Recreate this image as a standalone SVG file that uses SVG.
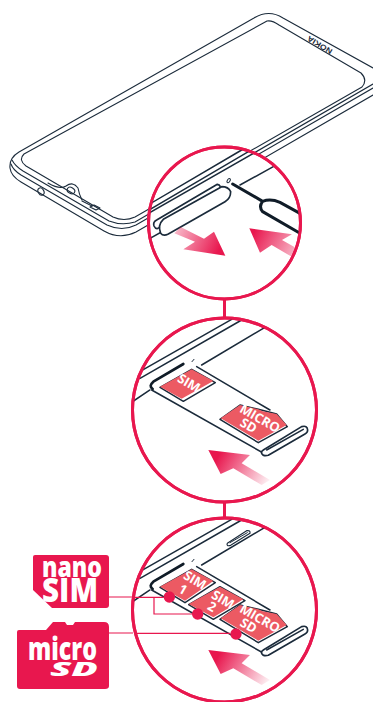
<svg xmlns="http://www.w3.org/2000/svg" width="373" height="702" viewBox="0 0 373 702">
<style>
.l{fill:none;stroke:#1b2b3b;stroke-width:1.1;stroke-linejoin:round;stroke-linecap:round}
.z{fill:none;stroke:#1b2b3b;stroke-width:4.500;stroke-linejoin:round;stroke-linecap:round}
.k{fill:none;stroke:#101c28;stroke-width:9;stroke-linecap:round;stroke-linejoin:round}
.t{fill:#fff;stroke:#1b2b3b;stroke-width:5;stroke-linejoin:round}
.c{fill:#fff;stroke:#e8174e;stroke-width:3}
.r{stroke:#e8174e;stroke-width:1.2;fill:none}
.card{fill:#ec5a63;stroke:none}
.edge{fill:#fff;stroke:#1b2b3b;stroke-width:4.500;stroke-linejoin:round}
.ct{font-family:"Open Sans","Liberation Sans",sans-serif;font-weight:700;fill:#fff;font-size:39px;text-anchor:middle}
.b{fill:#e8174e}
.w{font-family:"Open Sans","Liberation Sans",sans-serif;font-weight:800;fill:#fff}
</style>
<defs>
<linearGradient id="g1" gradientUnits="userSpaceOnUse" x1="250" y1="340" x2="105" y2="270"><stop offset="0.1" stop-color="#e8174e"/><stop offset="1" stop-color="#e8174e" stop-opacity=".3"/></linearGradient>
<linearGradient id="g2" gradientUnits="userSpaceOnUse" x1="330" y1="265" x2="470" y2="340"><stop offset="0.1" stop-color="#e8174e"/><stop offset="1" stop-color="#e8174e" stop-opacity=".3"/></linearGradient>
<linearGradient id="g3" gradientUnits="userSpaceOnUse" x1="240" y1="420" x2="415" y2="520"><stop offset="0.15" stop-color="#e8174e"/><stop offset="1" stop-color="#e8174e" stop-opacity=".05"/></linearGradient>
<clipPath id="c1"><circle cx="224.500" cy="223" r="76"/></clipPath>
<clipPath id="c2"><circle cx="224.500" cy="410" r="92"/></clipPath>
<clipPath id="c3"><circle cx="224.500" cy="610" r="92"/></clipPath>
</defs>
<g id="phone">
<path class="l" d="M373,68 L283,18 Q269,9 254,18 L19,152 Q9,158 10,168 Q11,176 21,182 L104,231 Q120,240 136,232 L373,95"/>
<path class="l" d="M11,164 Q13,170 21,175 L107,225 Q122,232 136,225 L373,88"/>
<path class="l" d="M12,160 Q15,166 23,171 L109,221 Q122,226 135,222 L373,84"/>
<path class="l" d="M267,21 Q272,20 279,25 L361,73 Q368,80 362,87 L135,217 Q124,222 113,217 L26,166 Q18,160 24,154 Z"/>
<path class="l" d="M48,183 Q60,190 66,186 Q73,181 78,188 Q79,194 82,200"/>
<path class="l" d="M82,201 L92,206"/>
<ellipse class="l" cx="71" cy="190.500" rx="4" ry="3" transform="rotate(30 71 190.500)"/>
<ellipse class="l" cx="41" cy="191.500" rx="2.800" ry="3.800" transform="rotate(-30 41 191.500)"/>
<path class="l" d="M90,207 L96,210 L100,208 L94,205 Z"/>
<text x="0" y="0" transform="translate(333,50) rotate(211)" font-family="Liberation Sans,sans-serif" font-weight="700" font-size="7.500" fill="#1b2b3b" textLength="28" lengthAdjust="spacingAndGlyphs">NOKIA</text>
</g>
<g id="connectors">
<path d="M224.500,298V318M224.500,501V518" stroke="#e8174e" stroke-width="3" fill="none"/>
<path class="r" d="M108,597H133M108,633H133"/>
</g>
<g id="detail-eject">
<circle class="c" cx="224.500" cy="223" r="76"/>
<g clip-path="url(#c1)"><g transform="translate(140,140) scale(.3333)">
<path class="z" d="M305,30L-10,215M385,0L-10,232M410,0L-10,240"/>
<path class="z" d="M400,80L300,135M75,270L30,295"/>
<path class="t" d="M50,240L232,133Q245,135 238,150L65,255Q50,275 42,258Q38,246 50,240Z"/>
<path class="t" d="M70,238L245,140Q265,140 272,155Q272,175 255,185L85,282Q70,290 62,280Q52,255 70,238Z"/>
<ellipse class="z" cx="266" cy="122" rx="4" ry="7" transform="rotate(30 266 122)" style="stroke-width:3"/>
<path class="k" d="M278,132L368,184Q392,175 420,187L480,220M368,184Q355,200 368,215L480,280"/>
<path fill="url(#g1)" d="M103,280L122,261L192,296L222,275L256,347L130,328L165,305Z"/>
<path fill="url(#g2)" d="M328,265L456,283L426,300L470,325L458,352L395,315L360,338Z"/>
</g></g>
<circle class="c" cx="224.500" cy="223" r="76" style="fill:none"/>
</g>
<g id="detail-tray">
<circle class="c" cx="224.500" cy="410" r="92"/>
<g clip-path="url(#c2)"><g transform="translate(130,310) scale(.3333)">
<path class="z" d="M305,28L20,190M335,30L30,205M405,52L215,165M60,240L0,280"/>
<path class="z" d="M200,170L420,300M65,240L405,432"/>
<path class="k" d="M68,237Q55,228 70,215L160,162" style="stroke-width:8"/>
<path class="z" d="M186,155L192,148" style="stroke-width:3"/>
<path class="t" d="M400,420L515,350Q532,345 533,360Q533,368 525,372L415,436Q400,440 395,430Q393,424 400,420Z"/>
<path class="z" d="M410,420L520,358"/>
<path class="edge" d="M90,232L160,274L256,218L185,178Z"/>
<path class="card" d="M90,230L185,178L250,213L155,266Z"/>
<text class="ct" transform="translate(170,231) rotate(30)">SIM</text>
<path class="edge" d="M270,328L385,398L472,350L440,312L385,298L330,285Z"/>
<path class="card" d="M272,325L330,285L385,298L398,304L440,312L470,345L385,392Z"/>
<text class="ct" transform="translate(383,337) rotate(30)">MICRO</text>
<text class="ct" transform="translate(349,358) rotate(30)">SD</text>
<path fill="url(#g3)" d="M235,420L360,435L335,460L420,510L395,525L310,475L272,492Z"/>
</g></g>
<circle class="c" cx="224.500" cy="410" r="92" style="fill:none"/>
</g>
<g id="detail-cards">
<circle class="c" cx="224.500" cy="610" r="92"/>
<g clip-path="url(#c3)"><g transform="translate(130,510) scale(.3333)">
<path class="z" d="M305,28L20,190M335,30L30,205M405,52L215,165M60,240L0,280"/>
<path class="z" d="M200,170L420,300M65,240L405,432"/>
<path class="k" d="M68,237Q55,228 70,215L160,162" style="stroke-width:8"/>
<path class="z" d="M186,155L192,148" style="stroke-width:3"/>
<path class="z" style="stroke-width:3.500" d="M292,100L350,62Q362,60 360,70L302,106Q288,110 292,100Z"/>
<path class="z" style="stroke-width:3" d="M300,98L352,68"/>
<path class="t" d="M400,420L515,350Q532,345 533,360Q533,368 525,372L415,436Q400,440 395,430Q393,424 400,420Z"/>
<path class="z" d="M410,420L520,358"/>
<path class="edge" d="M90,232L165,278L256,218L185,178Z"/>
<path class="card" d="M90,230L185,178L250,213L165,272Z"/>
<text class="ct" transform="translate(188,222) rotate(30)">SIM</text>
<text class="ct" transform="translate(152,250) rotate(30)">1</text>
<path class="edge" d="M176,284L250,328L345,272L270,230Z"/>
<path class="card" d="M176,282L270,230L340,268L250,322Z"/>
<text class="ct" transform="translate(272,280) rotate(30)">SIM</text>
<text class="ct" transform="translate(239,302) rotate(30)">2</text>
<path class="edge" d="M270,328L385,398L472,350L440,312L385,298L330,285Z"/>
<path class="card" d="M272,325L330,285L385,298L398,304L440,312L470,345L385,392Z"/>
<text class="ct" transform="translate(383,337) rotate(30)">MICRO</text>
<text class="ct" transform="translate(349,358) rotate(30)">SD</text>
<path fill="url(#g3)" d="M235,420L360,435L335,460L420,510L395,525L310,475L272,492Z"/>
<path class="r" style="stroke-width:3.600" d="M0,262H100M72,262V312H190M0,370H300"/>
<circle class="b" cx="118" cy="261" r="17"/>
<circle class="b" cx="203" cy="312" r="17"/>
<circle class="b" cx="318" cy="372" r="17"/>
</g></g>
<circle class="c" cx="224.500" cy="610" r="92" style="fill:none"/>
</g>
<g id="badge-nanosim">
<path class="b" d="M35,555H106Q109,555 109,558V605Q109,608 106,608H52L33,590V557Q33,555 35,555Z"/>
<text class="w" x="42" y="577" font-size="28" textLength="60" lengthAdjust="spacingAndGlyphs">nano</text>
<text class="w" x="42" y="602" font-size="33" textLength="56" lengthAdjust="spacingAndGlyphs">SIM</text>
</g>
<g id="badge-microsd">
<path class="b" d="M19,630L46,630L53,622H65L67,625H73L75,622H104Q109,622 109,627V686Q109,689 105,689H20Q17,689 17,686V632Q17,630 19,630Z"/>
<text class="w" x="28" y="660" font-size="32" textLength="69" lengthAdjust="spacingAndGlyphs">micro</text>
<text class="w" x="50" y="676" font-size="20" font-style="italic" textLength="48" lengthAdjust="spacingAndGlyphs">SD</text>
</g>
</svg>
